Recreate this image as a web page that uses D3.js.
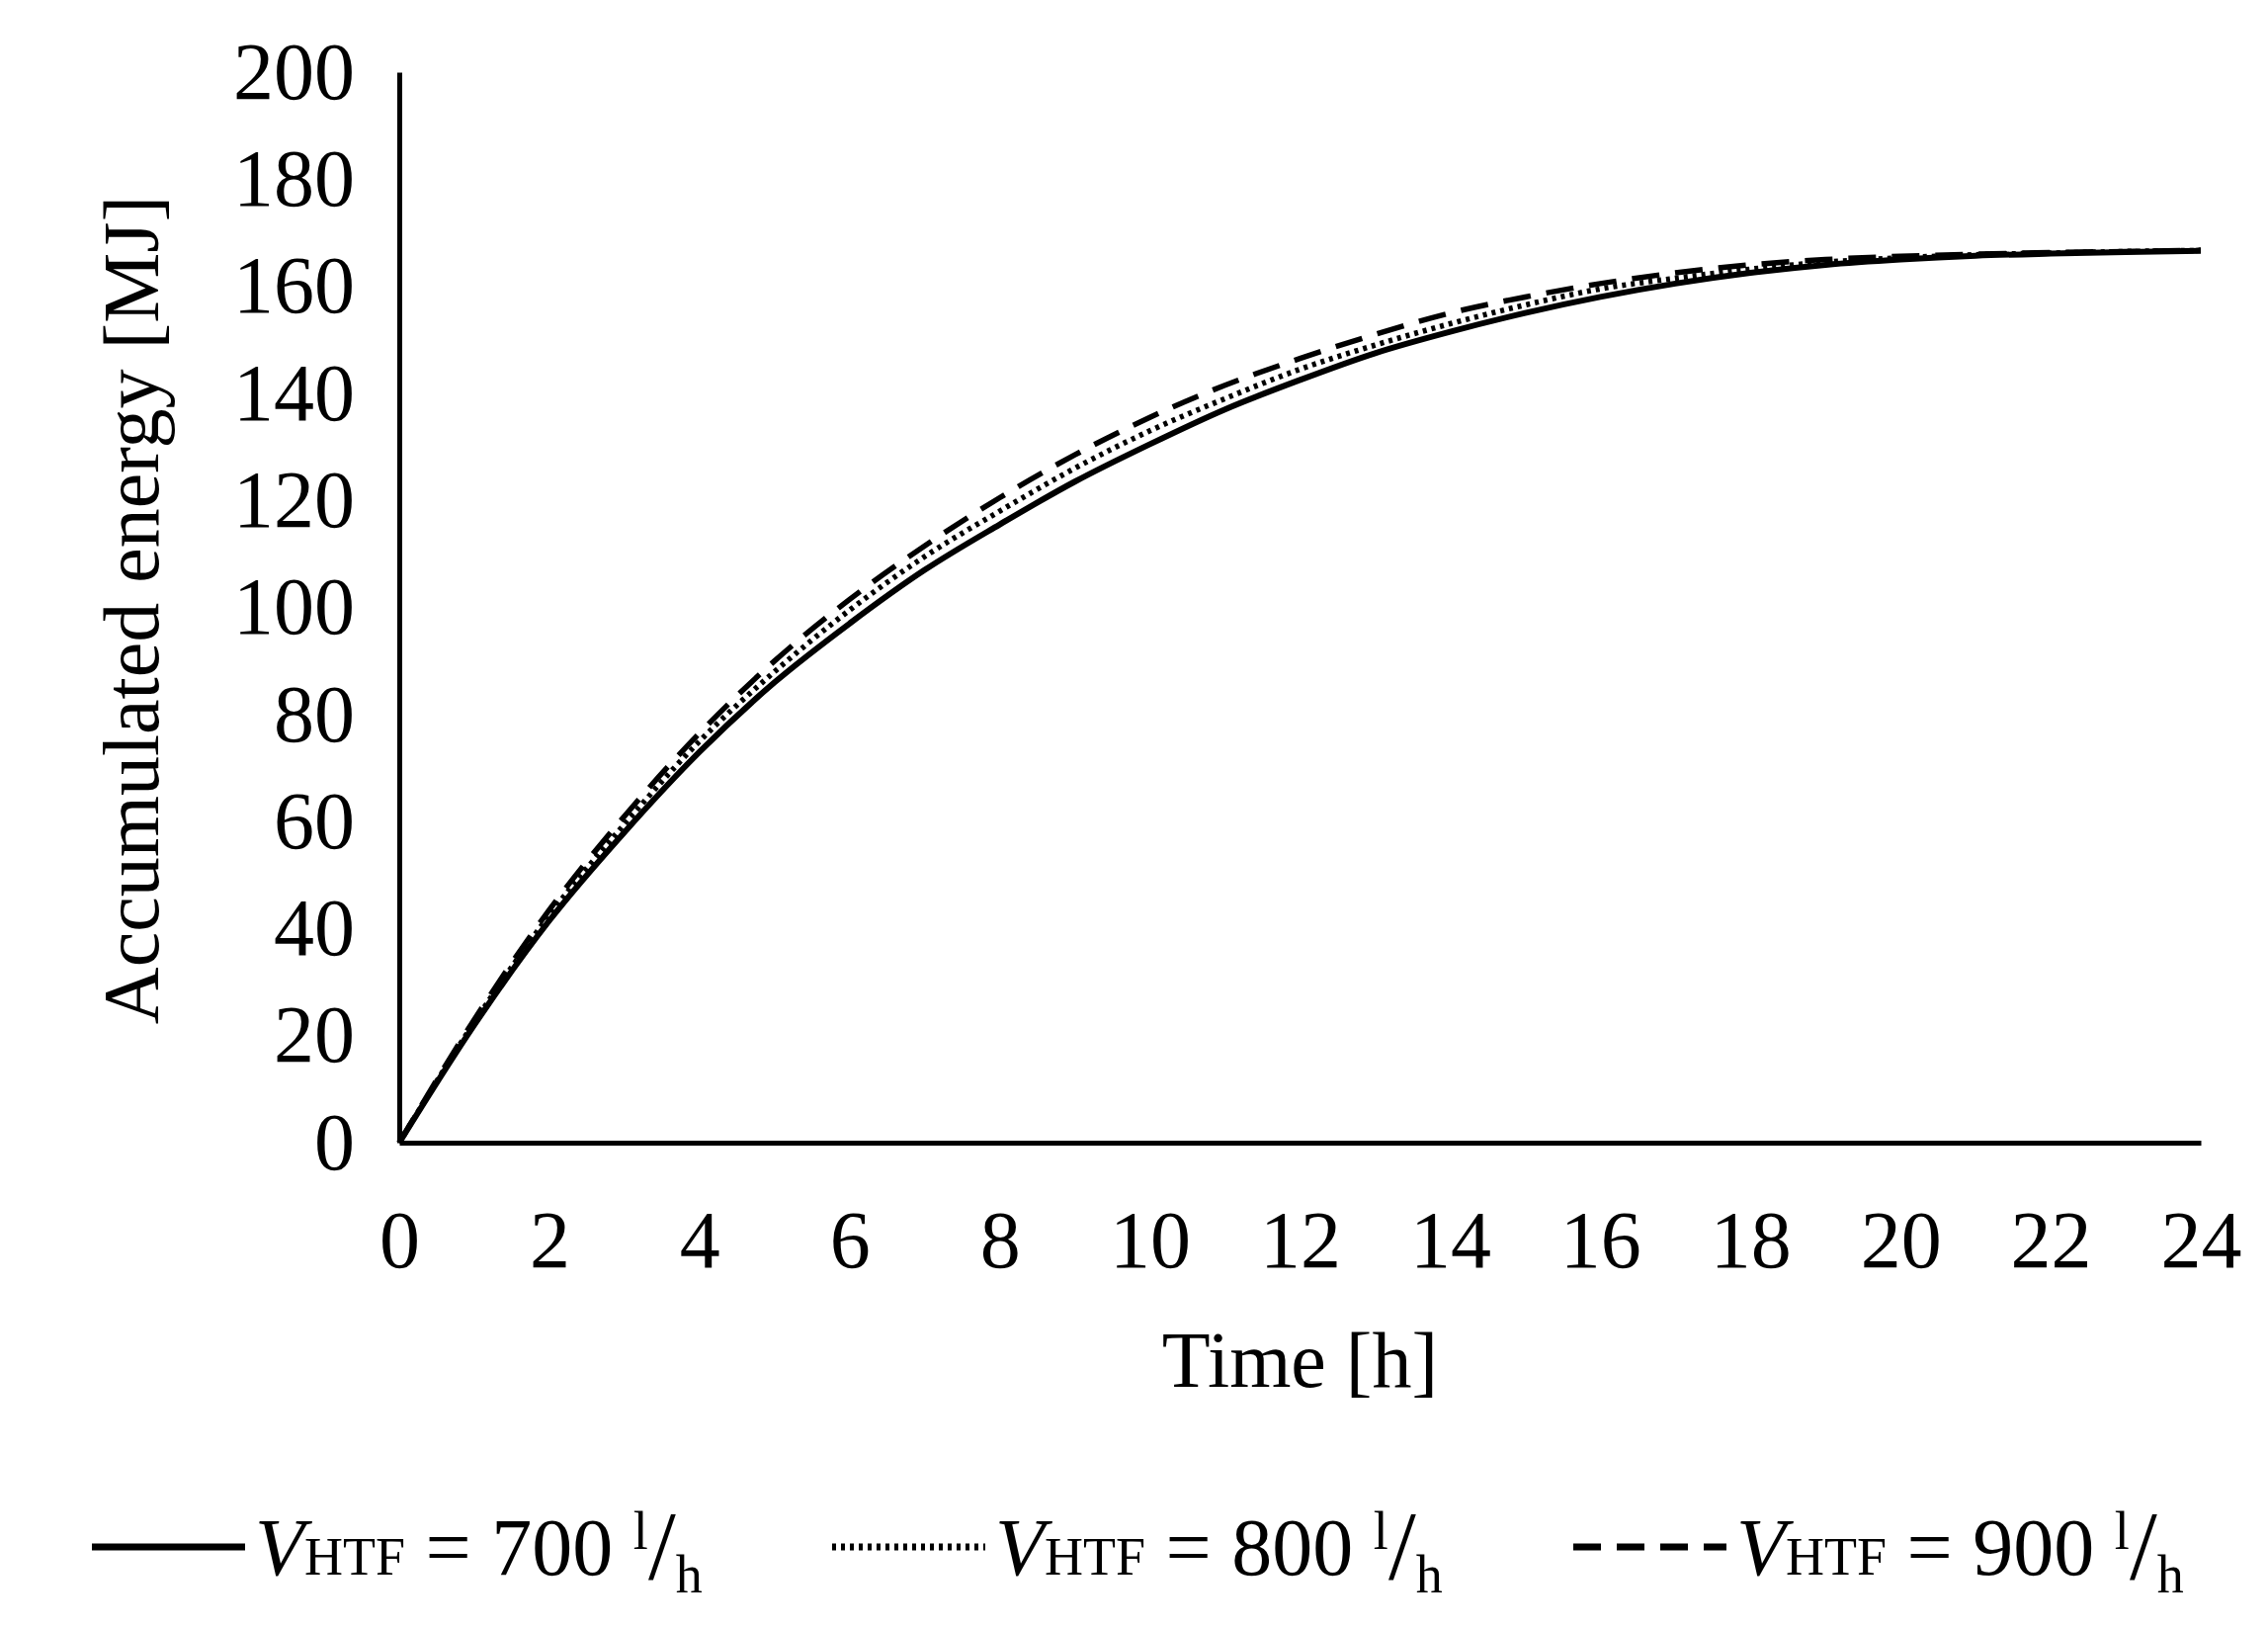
<!DOCTYPE html>
<html><head><meta charset="utf-8">
<script src="https://cdn.jsdelivr.net/npm/d3@7"></script>
<style>body{margin:0;background:#fff}text{font-family:"Liberation Serif","DejaVu Serif",serif;fill:#000}</style>
</head><body><svg id="c" width="2295" height="1647"></svg>
<script>
const hours = d3.range(0, 25);
const e700 = [0,22,41.5,58,73,86,97,107,115.5,123.5,130.5,137,142.5,147.5,151.5,155,158,160.5,162.5,164,165,165.7,166.1,166.4,166.6];
const e800 = [0,22.5,42.5,59.5,75,88,99.5,109.5,118,126,133,139,144.5,149,153,156.5,159.5,161.5,163.2,164.5,165.3,165.9,166.2,166.5,166.7];
const e900 = [0,23,43.5,61,76.5,90,101.5,111.5,120.5,128.5,135.5,141.5,146.5,151,155,158,160.5,162.5,164,165,165.6,166,166.3,166.5,166.7];
const xTicks = d3.range(0, 25, 2);
const yTicks = d3.range(0, 201, 20);
const seriesNames = ["700", "800", "900"];
const dashes = [null, "4,5", "28,16"];

const svg = d3.select("#c");
const L = 404, R = 2227, T = 73, B = 1156;
const x = d3.scaleLinear().domain([0, 24]).range([L, R]);
const y = d3.scaleLinear().domain([0, 200]).range([B, T]);

const fs = 82;
svg.append("g").attr("transform", `translate(0,${B})`)
  .call(d3.axisBottom(x).tickValues(xTicks).tickSize(0).tickPadding(68))
  .call(g => { g.select(".domain").attr("stroke-width", 5); g.selectAll("text").style("font-size", fs + "px").attr("font-family", null); });
svg.append("g").attr("transform", `translate(${L},0)`)
  .call(d3.axisLeft(y).tickValues(yTicks).tickSize(0).tickPadding(45))
  .call(g => { g.select(".domain").attr("stroke-width", 5); g.selectAll("text").style("font-size", fs + "px").attr("font-family", null); });

svg.append("text").attr("x", (L + R) / 2).attr("y", 1403).attr("text-anchor", "middle").style("font-size", "80px").text("Time [h]");
svg.append("text").attr("transform", "translate(160,617) rotate(-90)").attr("text-anchor", "middle").style("font-size", "80px").text("Accumulated energy [MJ]");

const line = d3.line().x((d, i) => x(hours[i])).y(d => y(d)).curve(d3.curveMonotoneX);
[e700, e800, e900].forEach((s, k) => {
  svg.append("path").attr("d", line(s)).attr("fill", "none").attr("stroke", "#000")
    .attr("stroke-width", k === 0 ? 6 : 5.5).attr("stroke-dasharray", dashes[k]);
});

const legX = [93, 842, 1592];
const ly = 1565;
seriesNames.forEach((n, k) => {
  const g = svg.append("g");
  g.append("line").attr("x1", legX[k]).attr("x2", legX[k] + 155).attr("y1", ly).attr("y2", ly)
    .attr("stroke", "#000").attr("stroke-width", 7).attr("stroke-dasharray", dashes[k]);
  const t = g.append("text").attr("x", legX[k] + 165).attr("y", ly + 28).style("font-size", "82px");
  t.append("tspan").attr("font-style", "italic").text("V");
  t.append("tspan").style("font-size", "54px").text("HTF");
  t.append("tspan").text(" = " + n + " ");
  t.append("tspan").style("font-size", "54px").attr("dy", -26).text("l");
  t.append("tspan").attr("dy", 30).style("font-size", "100px").text("/");
  t.append("tspan").style("font-size", "54px").attr("dy", 14).text("h");
});
</script></body></html>
